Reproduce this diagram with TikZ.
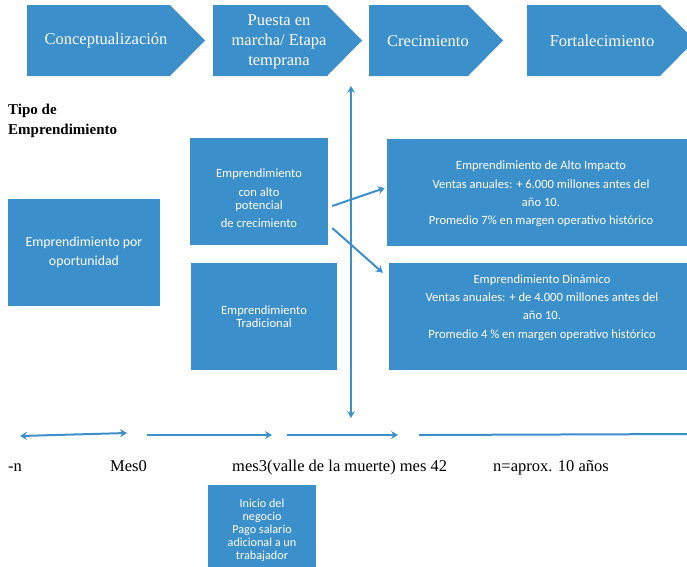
\documentclass[tikz,border=0pt]{standalone}
\usepackage{fontspec}
\setmainfont{Liberation Serif}
\newfontfamily\calibri{Carlito}
\usepackage{xcolor}
\usepackage{tikz}
\usetikzlibrary{arrows.meta}
\usetikzlibrary{positioning}
\definecolor{etapa}{RGB}{59,144,204}

\begin{document}
\begin{tikzpicture}[
  x=1pt, y=-1pt,
  font=\fontsize{16.5}{20}\selectfont,
  chevron/.style={fill=etapa},
  etiq/.style={text=white, align=center, inner sep=0pt},
  caja/.style={fill=etapa, text=white, align=center, inner sep=0pt,
    font=\calibri\fontsize{12.6}{18.3}\selectfont},
  flecha/.style={draw=etapa, line width=2pt,
    {Stealth[length=7pt,width=8pt,inset=2.5pt]}-{Stealth[length=7pt,width=8pt,inset=2.5pt]}},
  adelante/.style={draw=etapa, line width=2pt,
    -{Stealth[length=7pt,width=8pt,inset=2.5pt]}},
  mes/.style={anchor=base west, inner sep=0pt}]
  \useasboundingbox (0,0) rectangle (687,566);
  \clip (0,0) rectangle (687,566);

  % etapas
  \fill[chevron] (27,5) -- (170,5) -- (205,40.5) -- (170,76) -- (27,76) -- cycle;
  \node[etiq] (concep) at (106,41) {Conceptualización};
  \fill[chevron] (213,5) -- (327,5) -- (362,40.5) -- (327,76) -- (213,76) -- cycle;
  \node[etiq] (puesta) at (279,42) {Puesta en\\marcha/ Etapa\\temprana};
  \fill[chevron] (369,5) -- (468,5) -- (503,40.5) -- (468,76) -- (369,76) -- cycle;
  \node[etiq] (crec) at (428,41) {Crecimiento};
  \fill[chevron] (527,5) -- (660,5) -- (695,40.5) -- (660,76) -- (527,76) -- cycle;
  \node[etiq] (fort) at (602,41) {Fortalecimiento};

  \node[anchor=north west, align=left, inner sep=0pt,
    font=\bfseries\fontsize{15}{20}\selectfont] (tipo) at (8,104) {Tipo de\\Emprendimiento};

  % tipos de emprendimiento
  \node[caja, minimum width=152pt, minimum height=107pt,
    font=\calibri\fontsize{13.8}{19}\selectfont] (oport) at (84,252.5)
    {Emprendimiento por\\oportunidad};
  \node[caja, minimum width=138pt, minimum height=107pt] (alto) at (259,191.5) {};
  \node[etiq, font=\calibri\fontsize{12.6}{18}\selectfont] (altotxt) at ([yshift=-6.5pt]alto.center)
    {Emprendimiento\\[1pt]con alto\\[-5pt]potencial\\de crecimiento};
  \node[caja, minimum width=146pt, minimum height=107pt,
    font=\calibri\fontsize{12.6}{13}\selectfont] (trad) at (264,316.5)
    {Emprendimiento\\Tradicional};
  \node[caja, minimum width=308pt, minimum height=107pt] (impacto) at (541,192.5) {};
  \node[etiq, font=\calibri\fontsize{12.6}{18.3}\selectfont] (impactotxt) at ([yshift=-1.5pt]impacto.center)
    {Emprendimiento de Alto Impacto\\Ventas anuales: + 6.000 millones antes del\\año 10.\\Promedio 7\% en margen operativo histórico};
  \node[caja, minimum width=306pt, minimum height=107pt] (dinamico) at (542,316.5) {};
  \node[etiq, font=\calibri\fontsize{12.6}{18.3}\selectfont] (dinamicotxt) at ([yshift=9pt]dinamico.center)
    {Emprendimiento Dinámico\\Ventas anuales: + de 4.000 millones antes del\\año 10.\\Promedio 4 \% en margen operativo histórico};

  \draw[adelante] ([xshift=4pt,yshift=-14.5pt]alto.east) -- ([xshift=-2pt,yshift=4.5pt]impacto.west);
  \draw[adelante] ([xshift=4pt,yshift=-36.5pt]alto.east) -- ([xshift=-6pt,yshift=-10pt]dinamico.north west);

  % linea de tiempo
  \coordinate (vtop) at (351,86);
  \coordinate (vbot) at (351,418);
  \draw[flecha] (vtop) -- (vbot);

  \coordinate (t0) at (20,436);
  \coordinate (t1) at (127,433);
  \coordinate (t2) at (147,435);
  \coordinate (t3) at (272,435);
  \coordinate (t4) at (287,435);
  \coordinate (t5) at (398,435);
  \coordinate (t6) at (419,435);
  \coordinate (t7) at (695,434);
  \draw[flecha] (t0) -- (t1);
  \draw[adelante] (t2) -- (t3);
  \draw[adelante] (t4) -- (t5);
  \draw[draw=etapa, line width=2pt] (t6) -- (t7);

  \node[mes] (menosn) at (8,471) {-n};
  \node[mes] (mes0) at (110,471) {Mes0};
  \node[mes] (mes3) at (232,471) {mes3(valle de la muerte) mes 42};
  \node[mes] (naprox) at (493,471) {n=aprox. 10 años};

  \node[caja, minimum width=108pt, minimum height=90pt,
    font=\calibri\fontsize{12.2}{13}\selectfont] (inicio) at (262,530)
    {Inicio del\\negocio\\Pago salario\\adicional a un\\trabajador};
\end{tikzpicture}
\end{document}
